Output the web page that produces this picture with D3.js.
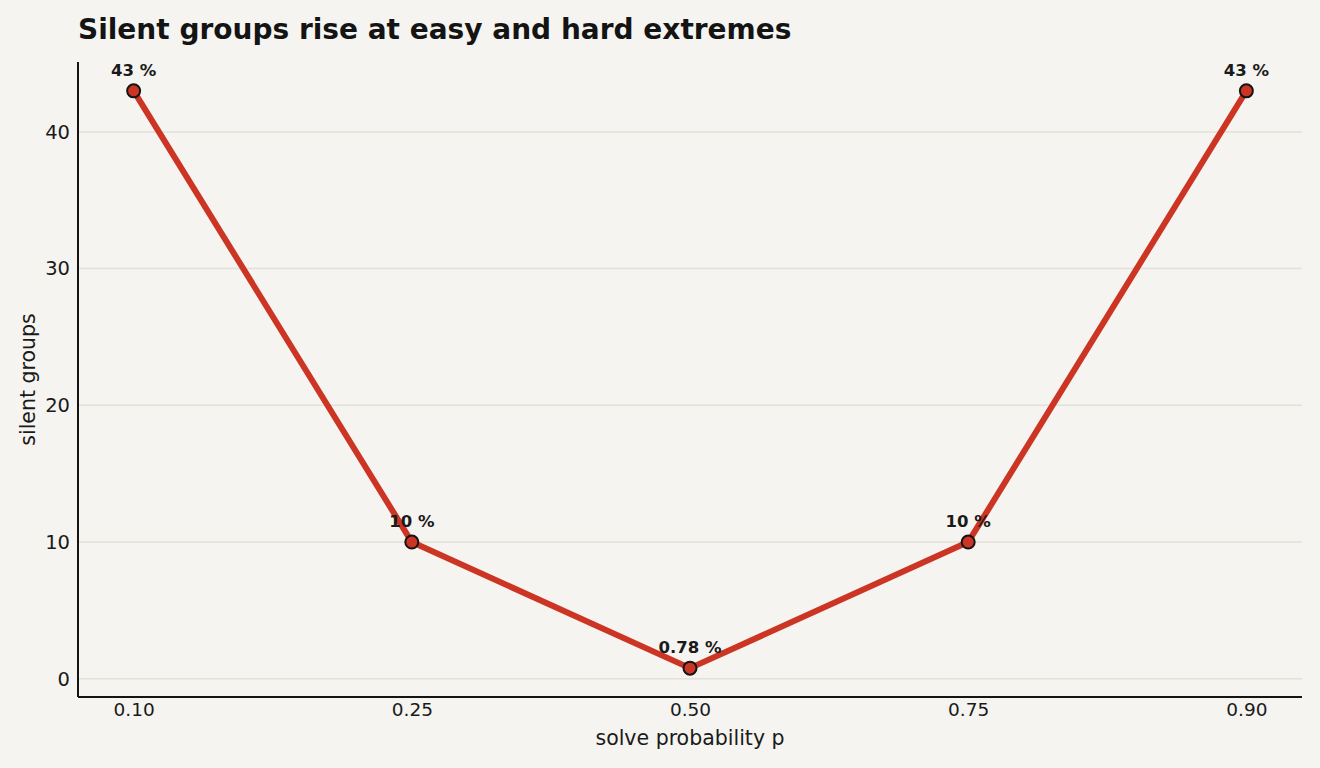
<!DOCTYPE html>
<html><head><meta charset="utf-8">
<script src="https://cdn.jsdelivr.net/npm/d3@7"></script>
<style>
html,body{margin:0;padding:0;background:#f5f4f0;}
text{font-family:"DejaVu Sans",sans-serif;}
</style></head>
<body>
<svg id="chart" width="1320" height="768"></svg>
<script>
const categories = ["0.10","0.25","0.50","0.75","0.90"];
const values = [43, 10, 0.78, 10, 43];
const labels = ["43 %","10 %","0.78 %","10 %","43 %"];
const yTicks = [0,10,20,30,40];

const W=1320,H=768;
const m={left:78,right:1302,top:62,bottom:697};
const svg=d3.select("#chart");
svg.append("rect").attr("width",W).attr("height",H).attr("fill","#f5f4f0");

const x=d3.scalePoint().domain(categories).range([m.left,m.right]).padding(0.2);
const lo=d3.min(values), hi=d3.max(values), pad=(hi-lo)*0.05;
const y=d3.scaleLinear().domain([lo-pad,hi+pad]).range([m.bottom,m.top]);

// grid
svg.append("g").selectAll("line").data(yTicks).join("line")
 .attr("x1",m.left).attr("x2",m.right).attr("y1",d=>y(d)).attr("y2",d=>y(d))
 .attr("stroke","#e2e0d9").attr("stroke-width",1.5);

// axes
const ya=svg.append("g").attr("transform",`translate(${m.left},0)`)
 .call(d3.axisLeft(y).tickValues(yTicks).tickSize(0).tickPadding(8));
ya.select(".domain").remove();
ya.selectAll("text").attr("font-size",19.5).attr("fill","#1a1a1a").attr("font-family","DejaVu Sans");
const xa=svg.append("g").attr("transform",`translate(0,${m.bottom})`)
 .call(d3.axisBottom(x).tickSize(0).tickPadding(6));
xa.select(".domain").remove();
xa.selectAll("text").attr("font-size",18.5).attr("fill","#1a1a1a").attr("font-family","DejaVu Sans");

// spines
svg.append("line").attr("x1",m.left).attr("x2",m.left).attr("y1",m.top).attr("y2",m.bottom)
 .attr("stroke","#141414").attr("stroke-width",2);
svg.append("line").attr("x1",m.left).attr("x2",m.right).attr("y1",m.bottom).attr("y2",m.bottom)
 .attr("stroke","#141414").attr("stroke-width",2);

// line
const pts=categories.map((c,i)=>({c,v:values[i],l:labels[i]}));
svg.append("path").datum(pts)
 .attr("d",d3.line().x(d=>x(d.c)).y(d=>y(d.v)))
 .attr("fill","none").attr("stroke","#cc3524").attr("stroke-width",6).attr("stroke-linejoin","round");
svg.append("g").selectAll("circle").data(pts).join("circle")
 .attr("cx",d=>x(d.c)).attr("cy",d=>y(d.v)).attr("r",6.5)
 .attr("fill","#cc3524").attr("stroke","#141414").attr("stroke-width",2);
svg.append("g").selectAll("text").data(pts).join("text")
 .attr("x",d=>x(d.c)).attr("y",d=>y(d.v)-15).attr("text-anchor","middle")
 .attr("font-size",16.5).attr("font-weight","bold").attr("fill","#1a1a1a").text(d=>d.l);

// titles
svg.append("text").attr("x",78).attr("y",39).attr("font-size",28).attr("font-weight","bold")
 .attr("fill","#141414").text("Silent groups rise at easy and hard extremes");
svg.append("text").attr("x",(m.left+m.right)/2).attr("y",745).attr("text-anchor","middle")
 .attr("font-size",20.5).attr("fill","#1a1a1a").text("solve probability p");
svg.append("text").attr("transform",`translate(35,${(m.top+m.bottom)/2}) rotate(-90)`)
 .attr("text-anchor","middle").attr("font-size",20.5).attr("fill","#1a1a1a").text("silent groups");
</script>
</body></html>
